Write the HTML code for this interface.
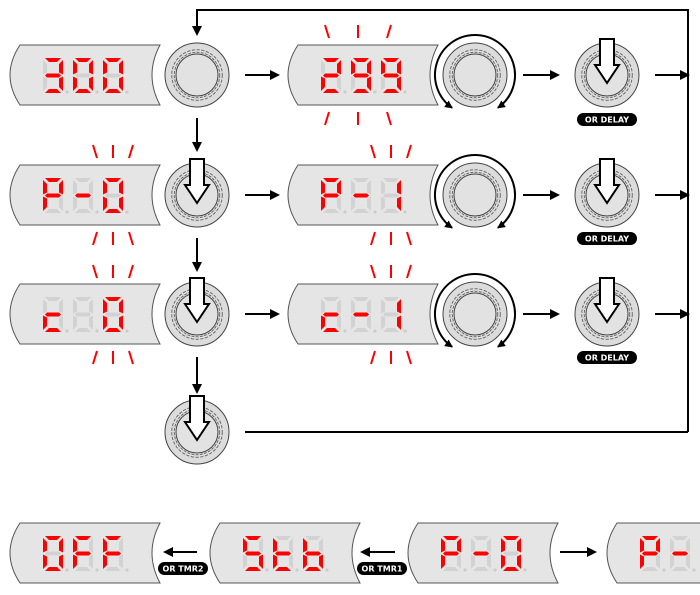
<!DOCTYPE html>
<html><head><meta charset="utf-8"><style>
html,body{margin:0;padding:0;background:#fff;width:700px;height:595px;overflow:hidden}
svg{display:block}
text{font-family:"DejaVu Sans","Liberation Sans",sans-serif;font-weight:bold;font-size:8px;fill:#fff}
</style></head><body>
<svg id="s" width="700" height="595" viewBox="0 0 700 595" xmlns="http://www.w3.org/2000/svg">
<defs><marker id="ah" markerWidth="8" markerHeight="8" refX="7" refY="4" orient="auto" markerUnits="userSpaceOnUse"><path d="M0,0 L8,4 L0,8z" fill="#000"/></marker>
<marker id="ah2" markerWidth="10" markerHeight="10" refX="8" refY="5" orient="auto" markerUnits="userSpaceOnUse"><path d="M0,0 L10,5 L0,10z" fill="#000"/></marker></defs>
<g id="gg"></g>
<g stroke="#000" stroke-width="2" fill="none">
<polyline points="688,432 688,10 197,10 197,34" marker-end="url(#ah2)"/>
<line x1="245" y1="432" x2="688" y2="432"/>
<line x1="245" y1="75" x2="278" y2="75" marker-end="url(#ah2)"/>
<line x1="523" y1="75" x2="558" y2="75" marker-end="url(#ah2)"/>
<line x1="655" y1="75" x2="688" y2="75" marker-end="url(#ah2)"/>
<line x1="245" y1="195" x2="278" y2="195" marker-end="url(#ah2)"/>
<line x1="523" y1="195" x2="558" y2="195" marker-end="url(#ah2)"/>
<line x1="655" y1="195" x2="688" y2="195" marker-end="url(#ah2)"/>
<line x1="245" y1="314" x2="278" y2="314" marker-end="url(#ah2)"/>
<line x1="523" y1="314" x2="558" y2="314" marker-end="url(#ah2)"/>
<line x1="655" y1="314" x2="688" y2="314" marker-end="url(#ah2)"/>
<line x1="197" y1="118" x2="197" y2="150" marker-end="url(#ah2)"/>
<line x1="197" y1="238" x2="197" y2="270" marker-end="url(#ah2)"/>
<line x1="197" y1="357" x2="197" y2="392" marker-end="url(#ah2)"/>
<line x1="197" y1="552" x2="165" y2="552" marker-end="url(#ah2)"/>
<line x1="395" y1="552" x2="362" y2="552" marker-end="url(#ah2)"/>
<line x1="560" y1="552" x2="595" y2="552" marker-end="url(#ah2)"/>
</g>
<g>
<rect x="577" y="113" width="60" height="13" rx="6.5" fill="#000"/><text x="607" y="122.5" text-anchor="middle">OR DELAY</text>
<rect x="577" y="232" width="60" height="13" rx="6.5" fill="#000"/><text x="607" y="241.5" text-anchor="middle">OR DELAY</text>
<rect x="577" y="351" width="60" height="13" rx="6.5" fill="#000"/><text x="607" y="360.5" text-anchor="middle">OR DELAY</text>
<rect x="158" y="562" width="50" height="13" rx="6.5" fill="#000"/><text x="183" y="571.5" text-anchor="middle">OR TMR2</text>
<rect x="357" y="562" width="50" height="13" rx="6.5" fill="#000"/><text x="382" y="571.5" text-anchor="middle">OR TMR1</text>
</g>
</svg>
<script>
var G=document.getElementById('gg'),h='';
var SEG={'3':'abcdg','0':'abcdef','O':'abcdef','2':'abdeg','9':'abcdfg','P':'abefg','-':'g','c':'deg','1':'bc','F':'aefg','S':'acdfg','t':'defg','b':'cdefg',' ':''};
function segs(x,y,lit){lit=lit||'';var w=20,H=35,t=4,m=H/2,o='';
var S={a:[x+2,y,x+w-2,y,x+w-2-t,y+t,x+2+t,y+t],
b:[x+w,y+2,x+w,y+m-1,x+w-t,y+m-1-t/2,x+w-t,y+2+t],
c:[x+w,y+m+1,x+w,y+H-2,x+w-t,y+H-2-t,x+w-t,y+m+1+t/2],
d:[x+2,y+H,x+w-2,y+H,x+w-2-t,y+H-t,x+2+t,y+H-t],
e:[x,y+m+1,x,y+H-2,x+t,y+H-2-t,x+t,y+m+1+t/2],
f:[x,y+2,x,y+m-1,x+t,y+m-1-t/2,x+t,y+2+t],
g:[x+2,y+m,x+2+t/2,y+m-t/2,x+w-2-t/2,y+m-t/2,x+w-2,y+m,x+w-2-t/2,y+m+t/2,x+2+t/2,y+m+t/2]};
for(var k in S){o+='<polygon points="'+S[k].join(',')+'" fill="'+(lit.indexOf(k)>=0?'#f00':'#d2d2d2')+'"/>';}
o+='<circle cx="'+(x+w+4)+'" cy="'+(y+H-1)+'" r="1.6" fill="#ccc"/>';return o;}
function disp(x,y,txt){var o='<path d="M'+(x+10)+','+y+' L'+(x+150)+','+y+' Q'+(x+134)+','+(y+30)+' '+(x+150)+','+(y+60)+' L'+(x+10)+','+(y+60)+' Q'+(x-10)+','+(y+30)+' '+(x+10)+','+y+'Z" fill="#e5e5e5" stroke="#555" stroke-width="1"/>';
for(var i=0;i<3;i++)o+=segs(x+33+i*30,y+13,SEG[txt[i]]);return o;}
function knob(cx,cy){var o='<circle cx="'+cx+'" cy="'+cy+'" r="32" fill="#dcdcdc" stroke="#444" stroke-width="1"/>';
o+='<circle cx="'+cx+'" cy="'+cy+'" r="24" fill="none" stroke="#666" stroke-width="3.5" stroke-dasharray="3 1.5"/>';
o+='<circle cx="'+cx+'" cy="'+cy+'" r="24" fill="none" stroke="#e8e8e8" stroke-width="1.5" stroke-dasharray="3 1.5"/>';
o+='<circle cx="'+cx+'" cy="'+cy+'" r="21" fill="#e2e2e2" stroke="#444" stroke-width="1"/>';return o;}
function press(cx,cy){var top=cy-36;return '<path d="M'+(cx-7)+','+top+' L'+(cx+7)+','+top+' L'+(cx+7)+','+(cy-10)+' L'+(cx+12)+','+(cy-10)+' L'+cx+','+(cy+8)+' L'+(cx-12)+','+(cy-10)+' L'+(cx-7)+','+(cy-10)+'Z" fill="#fff" stroke="#000" stroke-width="2"/>';}
function rot(cx,cy){var r=40,o='';function p(a){return (cx+r*Math.cos(a*Math.PI/180)).toFixed(1)+','+(cy+r*Math.sin(a*Math.PI/180)).toFixed(1);}
o+='<path d="M'+p(-90)+' A40,40 0 0 0 '+p(125)+'" fill="none" stroke="#000" stroke-width="2" marker-end="url(#ah)"/>';
o+='<path d="M'+p(-90)+' A40,40 0 0 1 '+p(55)+'" fill="none" stroke="#000" stroke-width="2" marker-end="url(#ah)"/>';return o;}
function flash(x,y,up,sp){sp=sp||18;var o='';var xs=[x,x+sp,x+2*sp];
for(var i=0;i<3;i++){var dx=i==1?0:(i==0?(up?4:-4):(up?-4:4));
o+='<line x1="'+(xs[i]-dx/2)+'" y1="'+y+'" x2="'+(xs[i]+dx/2)+'" y2="'+(y+13)+'" stroke="#f00" stroke-width="2"/>';}return o;}
function fl(x,top,bot,sp){return flash(x,top,true,sp)+flash(x,bot,false,sp);}
h+=disp(10,45,'300')+knob(197,75);
h+=disp(288,45,'299')+knob(475,75)+rot(475,75);
h+=fl(327,25,112,31);
h+=knob(607,75)+press(607,75);
h+=disp(10,165,'P-0')+knob(197,195)+press(197,195)+fl(95,145,232);
h+=disp(288,165,'P-1')+knob(475,195)+rot(475,195)+fl(373,145,232);
h+=knob(607,195)+press(607,195);
h+=disp(10,284,'c 0')+knob(197,314)+press(197,314)+fl(95,265,351);
h+=disp(288,284,'c-1')+knob(475,314)+rot(475,314)+fl(373,265,351);
h+=knob(607,314)+press(607,314);
h+=knob(197,432)+press(197,432);
h+=disp(10,523,'OFF')+disp(210,523,'Stb')+disp(408,523,'P-0')+disp(607,523,'P- ');
G.innerHTML=h;
</script>
</body></html>
